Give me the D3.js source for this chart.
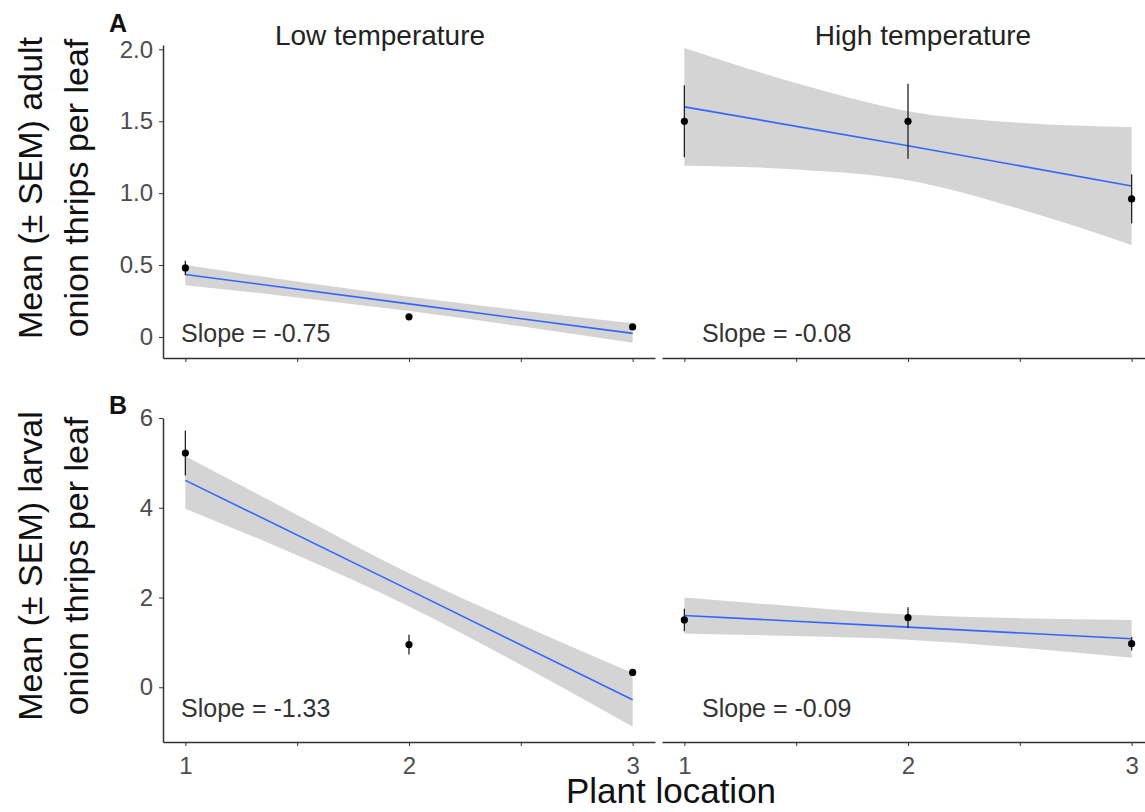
<!DOCTYPE html>
<html>
<head>
<meta charset="utf-8">
<script src="https://cdn.jsdelivr.net/npm/d3@7"></script>
<style>
  body { margin: 0; background: #fff; }
  svg { display: block; font-family: "Liberation Sans", Arial, sans-serif; }
  .axis path, .axis line { stroke: #333; }
  .axis path { stroke-width: 1.5; }
  .axis text { fill: #4d4d4d; font-size: 24px; }
</style>
</head>
<body>
<div id="chart"></div>
<script>
// data
const locations = [1, 2, 3];
const xTicks = [1, 1.5, 2, 2.5, 3];
const bandX = [1, 1.5, 2, 2.5, 3];
const temperatures = ['Low temperature', 'High temperature'];
const panelLetters = ['A', 'B'];

const adultTicks = [0, 0.5, 1, 1.5, 2];
const adultTickLabels = ['0', '0.5', '1.0', '1.5', '2.0'];
const larvalTicks = [0, 2, 4, 6];
const larvalTickLabels = ['0', '2', '4', '6'];

// adult thrips
const adultLowMean = [0.48, 0.14, 0.07];
const adultLowSem = [0.05, 0.02, 0.02];
const adultLowFit = [0.435, 0.23, 0.025];
const adultLowUpper = [0.50, 0.385, 0.28, 0.185, 0.095];
const adultLowLower = [0.36, 0.275, 0.18, 0.075, -0.04];

const adultHighMean = [1.50, 1.50, 0.96];
const adultHighSem = [0.25, 0.26, 0.17];
const adultHighFit = [1.60, 1.33, 1.05];
const adultHighUpper = [2.01, 1.765, 1.57, 1.49, 1.46];
const adultHighLower = [1.19, 1.165, 1.09, 0.89, 0.64];

// larval thrips
const larvalLowMean = [5.22, 0.95, 0.33];
const larvalLowSem = [0.50, 0.22, 0.05];
const larvalLowFit = [4.61, 2.17, -0.28];
const larvalLowUpper = [5.15, 3.84, 2.54, 1.40, 0.32];
const larvalLowLower = [3.98, 2.94, 1.80, 0.50, -0.88];

const larvalHighMean = [1.50, 1.55, 0.97];
const larvalHighSem = [0.25, 0.23, 0.15];
const larvalHighFit = [1.60, 1.34, 1.08];
const larvalHighUpper = [2.00, 1.80, 1.62, 1.54, 1.50];
const larvalHighLower = [1.20, 1.14, 1.06, 0.88, 0.66];

const adultSlopes = ['Slope = -0.75', 'Slope = -0.08'];
const larvalSlopes = ['Slope = -1.33', 'Slope = -0.09'];

// layout
const width = 1145, height = 812;
const colRange = [[163, 655], [662, 1154]];
const rowRange = [[358, 45], [742, 418]];
const xDomain = [0.9, 3.1];
const slopeX = [181, 702];
const slopeY = [342, 717];

const rows = [
  {
    domain: [-0.146, 2.03], ticks: adultTicks, labels: adultTickLabels,
    title: ['Mean (\u00b1 SEM) adult', 'onion thrips per leaf'],
    panels: [
      { mean: adultLowMean, sem: adultLowSem, fit: adultLowFit, upper: adultLowUpper, lower: adultLowLower, slope: adultSlopes[0] },
      { mean: adultHighMean, sem: adultHighSem, fit: adultHighFit, upper: adultHighUpper, lower: adultHighLower, slope: adultSlopes[1] }
    ]
  },
  {
    domain: [-1.22, 6.0], ticks: larvalTicks, labels: larvalTickLabels,
    title: ['Mean (\u00b1 SEM) larval', 'onion thrips per leaf'],
    panels: [
      { mean: larvalLowMean, sem: larvalLowSem, fit: larvalLowFit, upper: larvalLowUpper, lower: larvalLowLower, slope: larvalSlopes[0] },
      { mean: larvalHighMean, sem: larvalHighSem, fit: larvalHighFit, upper: larvalHighUpper, lower: larvalHighLower, slope: larvalSlopes[1] }
    ]
  }
];

const svg = d3.select('#chart').append('svg')
  .attr('width', width)
  .attr('height', height);

rows.forEach((row, r) => {
  const y = d3.scaleLinear().domain(row.domain).range(rowRange[r]);

  row.panels.forEach((p, c) => {
    const x = d3.scaleLinear().domain(xDomain).range(colRange[c]);
    const g = svg.append('g');

    // confidence ribbon
    const band = bandX.map((d, i) => ({ x: d, lo: p.lower[i], hi: p.upper[i] }));
    g.append('path')
      .datum(band)
      .attr('fill', '#d4d4d4')
      .attr('d', d3.area()
        .curve(d3.curveMonotoneX)
        .x(d => x(d.x))
        .y0(d => y(d.lo))
        .y1(d => y(d.hi)));

    // fitted line
    g.append('path')
      .datum(locations.map((d, i) => ({ x: d, v: p.fit[i] })))
      .attr('fill', 'none')
      .attr('stroke', '#3366FF')
      .attr('stroke-width', 1.6)
      .attr('d', d3.line().x(d => x(d.x)).y(d => y(d.v)));

    // error bars
    g.selectAll('.err')
      .data(locations)
      .enter()
      .append('line')
      .attr('class', 'err')
      .attr('x1', d => x(d))
      .attr('x2', d => x(d))
      .attr('y1', (d, i) => y(p.mean[i] - p.sem[i]))
      .attr('y2', (d, i) => y(p.mean[i] + p.sem[i]))
      .attr('stroke', '#222')
      .attr('stroke-width', 1.3);

    // means
    g.selectAll('.pt')
      .data(locations)
      .enter()
      .append('circle')
      .attr('class', 'pt')
      .attr('cx', d => x(d))
      .attr('cy', (d, i) => y(p.mean[i]))
      .attr('r', 3.6)
      .attr('fill', '#000');

    // x axis
    g.append('g')
      .attr('class', 'axis')
      .attr('transform', 'translate(0,' + rowRange[r][0] + ')')
      .call(d3.axisBottom(x)
        .tickValues(r === 1 ? xTicks : xTicks)
        .tickSize(4)
        .tickSizeOuter(0)
        .tickPadding(11)
        .tickFormat(d => (r === 1 && Number.isInteger(d)) ? String(d) : ''));

    // y axis on left column only
    if (c === 0) {
      g.append('g')
        .attr('class', 'axis')
        .attr('transform', 'translate(' + colRange[0][0] + ',0)')
        .call(d3.axisLeft(y)
          .tickValues(row.ticks)
          .tickSize(4)
          .tickSizeOuter(0)
          .tickPadding(6)
          .tickFormat((d, i) => row.labels[i]));
    }

    g.append('text')
      .attr('x', slopeX[c])
      .attr('y', slopeY[r])
      .attr('font-size', 25)
      .attr('fill', '#333')
      .text(p.slope);
  });

  // y title, two lines
  const cy = r === 0 ? 188 : 566;
  row.title.forEach((t, i) => {
    svg.append('text')
      .attr('transform', 'translate(' + (42 + i * 46) + ',' + cy + ') rotate(-90)')
      .attr('text-anchor', 'middle')
      .attr('font-size', 34)
      .attr('fill', '#111')
      .text(t);
  });

  svg.append('text')
    .attr('x', 118)
    .attr('y', r === 0 ? 32 : 414)
    .attr('text-anchor', 'middle')
    .attr('font-size', 25)
    .attr('font-weight', 'bold')
    .attr('fill', '#111')
    .text(panelLetters[r]);
});

// strip titles
[380, 923].forEach((cx, i) => {
  svg.append('text')
    .attr('x', cx)
    .attr('y', 45)
    .attr('text-anchor', 'middle')
    .attr('font-size', 28)
    .attr('fill', '#222')
    .text(temperatures[i]);
});

svg.append('text')
  .attr('x', 671)
  .attr('y', 803)
  .attr('text-anchor', 'middle')
  .attr('font-size', 35)
  .attr('fill', '#111')
  .text('Plant location');
</script>
</body>
</html>
